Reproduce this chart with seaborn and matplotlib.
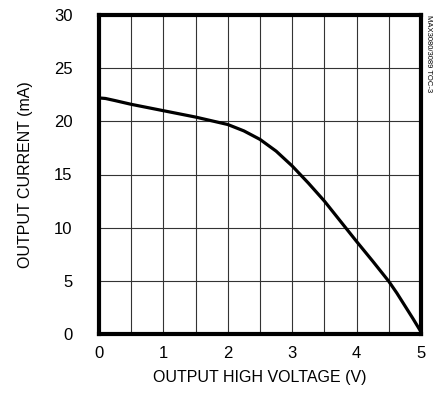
import matplotlib
matplotlib.use("Agg")
import matplotlib.pyplot as plt
import seaborn as sns
import pandas as pd

voltage = [0.0, 0.1, 0.25, 0.5, 1.0, 1.5, 2.0, 2.25, 2.5, 2.75, 3.0, 3.25, 3.5, 3.75, 4.0, 4.25, 4.5, 4.625, 4.75, 4.875, 5.0]
current = [22.2, 22.15, 21.95, 21.6, 21.0, 20.4, 19.7, 19.1, 18.3, 17.2, 15.8, 14.2, 12.5, 10.6, 8.7, 6.85, 4.95, 3.85, 2.65, 1.45, 0.2]
x_ticks = [0, 1, 2, 3, 4, 5]
y_ticks = [0, 5, 10, 15, 20, 25, 30]

sns.set_theme(style="white")
plt.rcParams["font.family"] = ["Liberation Sans", "DejaVu Sans"]

df = pd.DataFrame({"V": voltage, "I": current})

fig = plt.figure(figsize=(4.44, 3.98), dpi=100)
ax = fig.add_axes([99/444, 1 - 334/398, 322/444, 319/398])

for xv in [i * 0.5 for i in range(1, 10)]:
    ax.axvline(xv, color="#333333", lw=0.8, zorder=1)
for yv in [5, 10, 15, 20, 25]:
    ax.axhline(yv, color="#333333", lw=0.8, zorder=1)

sns.lineplot(data=df, x="V", y="I", ax=ax, color="black", lw=2.3, zorder=3)

ax.set_xlim(0, 5)
ax.set_ylim(0, 30)
ax.set_xticks(x_ticks)
ax.set_yticks(y_ticks)
ax.tick_params(axis="both", length=0, labelsize=12, colors="black")
ax.tick_params(axis="y", pad=19)
ax.tick_params(axis="x", pad=9)
for s in ax.spines.values():
    s.set_linewidth(3)
    s.set_color("black")
    s.set_visible(True)
ax.set_xlabel("OUTPUT HIGH VOLTAGE (V)", fontsize=11.5, color="black", labelpad=6)
ax.set_ylabel("OUTPUT CURRENT (mA)", fontsize=11.5, color="black", labelpad=15)

fig.text(428/444, 1 - 15/398, "MAX3080/3089 TOC-3", rotation=270, fontsize=5.5,
         va="top", ha="center", color="black")

fig.savefig("out.png", dpi=100)
